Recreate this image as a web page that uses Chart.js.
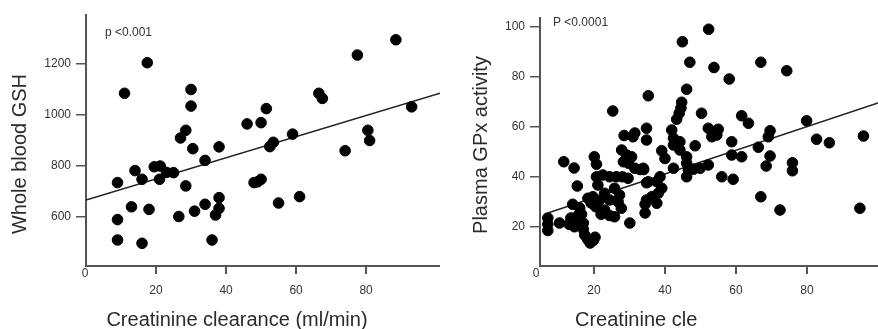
<!DOCTYPE html>
<html>
<head>
<meta charset="utf-8">
<script src="https://cdn.jsdelivr.net/npm/chart.js@4.4.1/dist/chart.umd.min.js"></script>
<style>
html,body{margin:0;padding:0;background:#fff;}
#wrap{position:relative;width:878px;height:329px;overflow:hidden;}
#gsh{position:absolute;left:0;top:0;}
#gpx{position:absolute;left:440px;top:0;}
</style>
</head>
<body>
<div id="wrap">
<canvas id="gsh" width="440" height="329"></canvas>
<canvas id="gpx" width="438" height="329"></canvas>
</div>
<script>
// left panel: creatinine clearance vs whole blood GSH
const clearanceA = [17.5,11,30,30,28.5,27,30.5,38,34,9,14,16,19.5,21.2,21,23,25,28.5,13,18,9,9,16,26.5,31,34,37,38,38,36,46,50,51.5,48,49,50,52.5,53.5,59,55,61,66.5,67.5,77.5,74,80.5,81,88.5,93];
const gshValues = [1205,1085,1100,1035,940,910,868,875,822,735,782,748,797,800,748,775,774,722,640,630,590,510,497,602,623,650,608,634,676,510,965,970,1025,735,738,748,876,893,925,655,680,1085,1065,1235,860,940,900,1295,1032];
const gshFit = [667, 4.14];   // intercept, slope

// right panel: creatinine clearance vs plasma GPx activity
const clearanceB = [7,7,7,10.3,11.5,14.4,15.3,13,13.5,14,14.5,15,15.5,16,16.5,17,17,17.4,18.2,18.9,19.8,20.3,18.3,19.7,19.2,20.5,21.5,20.1,20.7,20.7,21.1,22.5,24.4,26.3,28,29.6,23,24.4,25.8,27.2,26.8,27.7,23,24.4,25.8,22,30.1,34.4,25.3,28.5,31,31.5,27.8,29.2,30.6,28.3,29.7,31.5,33,34,34.8,34.8,35.3,34.8,37.7,38.6,39.1,38.1,34.8,34.4,36.3,37.7,39.1,40,44.9,47,46.1,44.7,44.5,44,43.3,41.9,42.4,42.4,43.3,44.2,44.2,42.4,46.1,46.1,46.6,46.1,48.5,49.9,52.2,50.3,52.3,53.8,58.1,52.2,53.6,55,53.2,54.6,58.8,56,59.2,58.8,61.6,61.6,63.5,48,67,74.3,66.3,69.6,69.1,69.6,68.5,75.9,75.9,67,72.4,79.9,82.7,86.3,95.9,94.9,33.9,35.3];
const gpxValues = [23.5,18.5,21,21.5,46,43.5,36.3,21,23.5,29,20,22,24.5,27.5,25,21.5,19,16.7,15,13.5,14.5,15.8,31.4,32,29.5,28,30.5,48,45,40,36.7,40.7,40,40,40,39.4,33.4,30.7,35.4,32.7,30,27.4,26.7,24.5,24,25,21.5,25.5,66.3,56.5,56,57.5,50.7,48.7,48,46,45.4,43.4,42.9,42.9,59.4,54.7,72.4,37.6,38,40,35.4,33.4,30.7,29,32,29.4,50.4,47.3,94,85.8,75,69.8,67.5,65.4,63,58.7,55.4,52.7,53.4,54,50.7,43.4,48,45.4,42.7,40,52.4,43.4,44.7,65.4,99,83.7,79.1,59.4,57.4,59,56,56.7,54,40,39,48.7,48,64.4,61.4,43,85.8,82.4,51.8,58.4,56,48.3,44.3,45.6,42.4,32,26.7,62.4,55,53.6,56.3,27.4,43.4,38];
const gpxFit = [22.2, 0.473];

const xTickValues = [20, 40, 60, 80];
const gshTickValues = [600, 800, 1000, 1200];
const gpxTickValues = [20, 40, 60, 80, 100];

Chart.defaults.font.family = "'Liberation Sans', Arial, sans-serif";
Chart.defaults.color = "#333";

const axisGrey = "#555";

function points(xs, ys){
    return xs.map((x,i)=>({x:x, y:ys[i]}));
}
function fitLine(fit, x0, x1){
    return [{x:x0, y:fit[0]+fit[1]*x0}, {x:x1, y:fit[0]+fit[1]*x1}];
}

// titles, p value and the "0" at the origin
const captions = {
    id: "captions",
    afterDraw(chart, args, opts){
        const ctx = chart.ctx;
        const a = chart.chartArea;
        ctx.save();
        ctx.fillStyle = "#333";
        ctx.font = "12px 'Liberation Sans', Arial, sans-serif";
        ctx.textAlign = "center";
        ctx.textBaseline = "middle";
        ctx.fillText("0", a.left - opts.zeroShift, a.bottom + 8);
        ctx.textAlign = "left";
        ctx.fillText(opts.pText, opts.pX, opts.pY);
        ctx.fillStyle = "#2b2b2b";
        ctx.font = "20px 'Liberation Sans', Arial, sans-serif";
        ctx.textAlign = opts.xTitleAlign;
        ctx.fillText(opts.xTitle, opts.xTitleX, 320);
        ctx.translate(opts.yTitleX, opts.yTitleY);
        ctx.rotate(-Math.PI/2);
        ctx.textAlign = "center";
        ctx.fillText(opts.yTitle, 0, 0);
        ctx.restore();
    }
};

function makeChart(id, xs, ys, fit, fitFrom, xRange, yRange, yTicks, yWidth, topPad, caption){
    return new Chart(document.getElementById(id), {
        type: "scatter",
        data: {
            datasets: [{
                data: points(xs, ys),
                backgroundColor: "#000",
                borderColor: "#000",
                pointRadius: 5.3,
                pointHoverRadius: 5.3,
                order: 0
            },{
                type: "line",
                data: fitLine(fit, fitFrom, xRange[1]),
                borderColor: "#222",
                borderWidth: 1.5,
                pointRadius: 0,
                fill: false,
                order: 1
            }]
        },
        options: {
            responsive: false,
            animation: false,
            layout: {autoPadding: false, padding: {top: topPad, right: 0, bottom: 0, left: 0}},
            plugins: {
                legend: {display: false},
                tooltip: {enabled: false},
                captions: caption
            },
            scales: {
                x: {
                    type: "linear",
                    min: xRange[0],
                    max: xRange[1],
                    afterBuildTicks: s => { s.ticks = xTickValues.map(v => ({value: v})); },
                    afterFit: s => { s.height = 63; s.paddingLeft = 0; s.paddingRight = 0; },
                    border: {color: axisGrey, width: 2},
                    grid: {drawOnChartArea: false, drawTicks: true, tickLength: 8, color: axisGrey, lineWidth: 2},
                    ticks: {font: {size: 12}, padding: 9, maxRotation: 0, callback: v => String(v)}
                },
                y: {
                    type: "linear",
                    min: yRange[0],
                    max: yRange[1],
                    afterBuildTicks: s => { s.ticks = yTicks.map(v => ({value: v})); },
                    afterFit: s => { s.width = yWidth; s.paddingTop = 0; s.paddingBottom = 0; },
                    border: {color: axisGrey, width: 2},
                    grid: {drawOnChartArea: false, drawTicks: true, tickLength: 10, color: axisGrey, lineWidth: 1.5},
                    ticks: {font: {size: 12}, padding: 5, callback: v => String(v)}
                }
            }
        },
        plugins: [captions]
    });
}

makeChart("gsh", clearanceA, gshValues, gshFit, 0, [0, 101.1], [408, 1392], gshTickValues, 86, 15, {
    pText: "p <0.001", pX: 105, pY: 33, zeroShift: 1,
    xTitle: "Creatinine clearance (ml/min)", xTitleX: 237, xTitleAlign: "center",
    yTitle: "Whole blood GSH", yTitleX: 20, yTitleY: 154
});

makeChart("gpx", clearanceB, gpxValues, gpxFit, 7, [4.8, 100], [4.3, 103.5], gpxTickValues, 100, 18, {
    pText: "P <0.0001", pX: 113, pY: 23, zeroShift: 4,
    xTitle: "Creatinine cle", xTitleX: 135, xTitleAlign: "left",
    yTitle: "Plasma GPx activity", yTitleX: 41, yTitleY: 145
});
</script>
</body>
</html>
